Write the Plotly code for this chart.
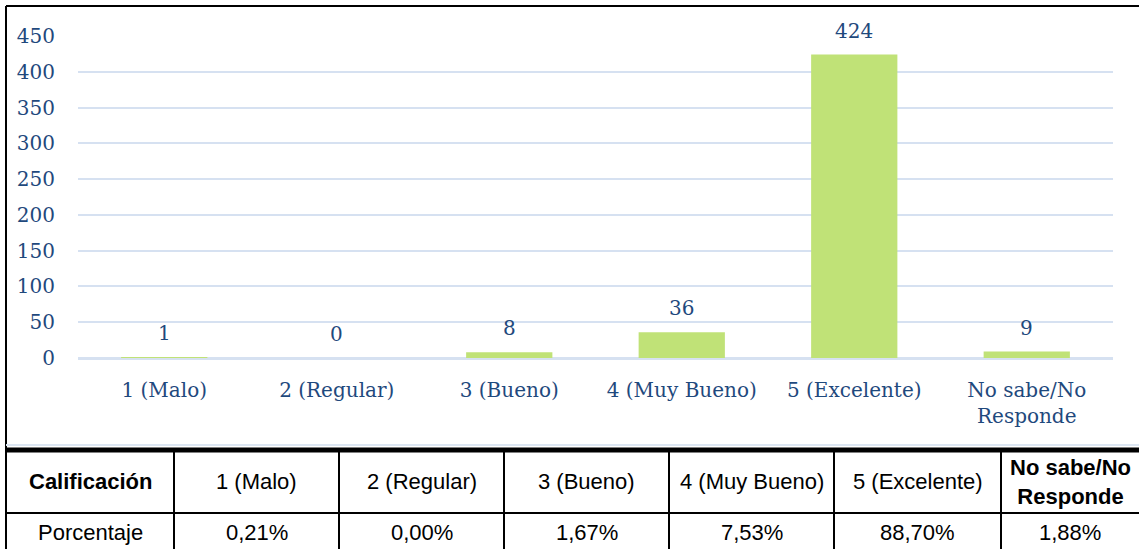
import plotly.graph_objects as go

# datos de la encuesta
categorias = ["1 (Malo)", "2 (Regular)", "3 (Bueno)", "4 (Muy Bueno)", "5 (Excelente)", "No sabe/No<br>Responde"]
respuestas = [1, 0, 8, 36, 424, 9]

encabezado_tabla = ["<b>Calificación</b>", "1 (Malo)", "2 (Regular)", "3 (Bueno)",
                    "4 (Muy Bueno)", "5 (Excelente)", "<b>No sabe/No<br>Responde</b>"]
fila_tabla = ["Porcentaje", "0,21%", "0,00%", "1,67%", "7,53%", "88,70%", "1,88%"]

y_ticks = [0, 50, 100, 150, 200, 250, 300, 350, 400, 450]

W, H = 1139, 549
azul = "#1F497D"
serif = "DejaVu Serif"
sans = "Liberation Sans, Arial"

# geometria de la tabla (px)
bordes_col = [6, 174, 339, 504, 669, 834, 1001, 1150]
filas_y = [450, 513, 556]


def px_x(p):
    return p / W


def px_y(p):
    return 1 - p / H


fig = go.Figure()

fig.add_trace(go.Bar(
    x=categorias, y=respuestas,
    marker=dict(color="#C0E277", line=dict(width=0)),
    hoverinfo="x+y",
    showlegend=False,
))

# etiquetas de valores sobre las barras
for c, v in zip(categorias, respuestas):
    fig.add_annotation(x=c, y=v, text=str(v), showarrow=False,
                       yanchor="bottom", yshift=10,
                       font=dict(family=serif, size=20, color=azul))

# tabla de porcentajes
for i in range(len(encabezado_tabla)):
    xc = px_x((bordes_col[i] + min(bordes_col[i + 1], W)) / 2)
    fig.add_annotation(xref="paper", yref="paper", x=xc, y=px_y((filas_y[0] + filas_y[1]) / 2),
                       text=encabezado_tabla[i], showarrow=False, align="center",
                       xanchor="center", yanchor="middle",
                       font=dict(family=sans, size=22, color="black"))
    fig.add_annotation(xref="paper", yref="paper", x=xc, y=px_y(532),
                       text=fila_tabla[i], showarrow=False,
                       xanchor="center", yanchor="middle",
                       font=dict(family=sans, size=22, color="black"))

lineas = [
    # marco del grafico
    dict(x0=px_x(6), x1=1, y0=px_y(6), y1=px_y(6), line=dict(color="black", width=2)),
    dict(x0=px_x(6), x1=px_x(6), y0=px_y(6), y1=px_y(450), line=dict(color="black", width=2)),
    dict(x0=px_x(6), x1=1, y0=px_y(445), y1=px_y(445), line=dict(color="#DCE6F2", width=2)),
    # tabla
    dict(x0=px_x(6), x1=1, y0=px_y(filas_y[0]), y1=px_y(filas_y[0]), line=dict(color="black", width=5)),
    dict(x0=px_x(6), x1=1, y0=px_y(filas_y[1]), y1=px_y(filas_y[1]), line=dict(color="black", width=2)),
]
for bx in bordes_col[:-1]:
    lineas.append(dict(x0=px_x(bx), x1=px_x(bx), y0=px_y(filas_y[0]), y1=0,
                       line=dict(color="black", width=2)))
for s in lineas:
    s.update(type="line", xref="paper", yref="paper")

fig.update_layout(
    width=W, height=H,
    margin=dict(l=0, r=0, t=0, b=0, autoexpand=False),
    paper_bgcolor="white", plot_bgcolor="white",
    bargap=0.5,
    xaxis=dict(domain=[px_x(78), px_x(1113)], showgrid=False, showline=False,
               automargin=False, ticks="", ticklabelstandoff=18,
               tickfont=dict(family=serif, size=20, color=azul)),
    yaxis=dict(domain=[px_y(358), px_y(36)], range=[0, 450], tickvals=y_ticks,
               automargin=False,
               showgrid=True, gridcolor="#D6E1F1", gridwidth=2,
               zeroline=True, zerolinecolor="#D6E1F1", zerolinewidth=3,
               showline=False, ticks="", ticklabelstandoff=22,
               tickfont=dict(family=serif, size=20, color=azul)),
    shapes=lineas,
)

fig.write_html("out.html", config={"displayModeBar": False},
               post_script="document.body.style.margin='0';document.body.style.overflow='hidden';")
